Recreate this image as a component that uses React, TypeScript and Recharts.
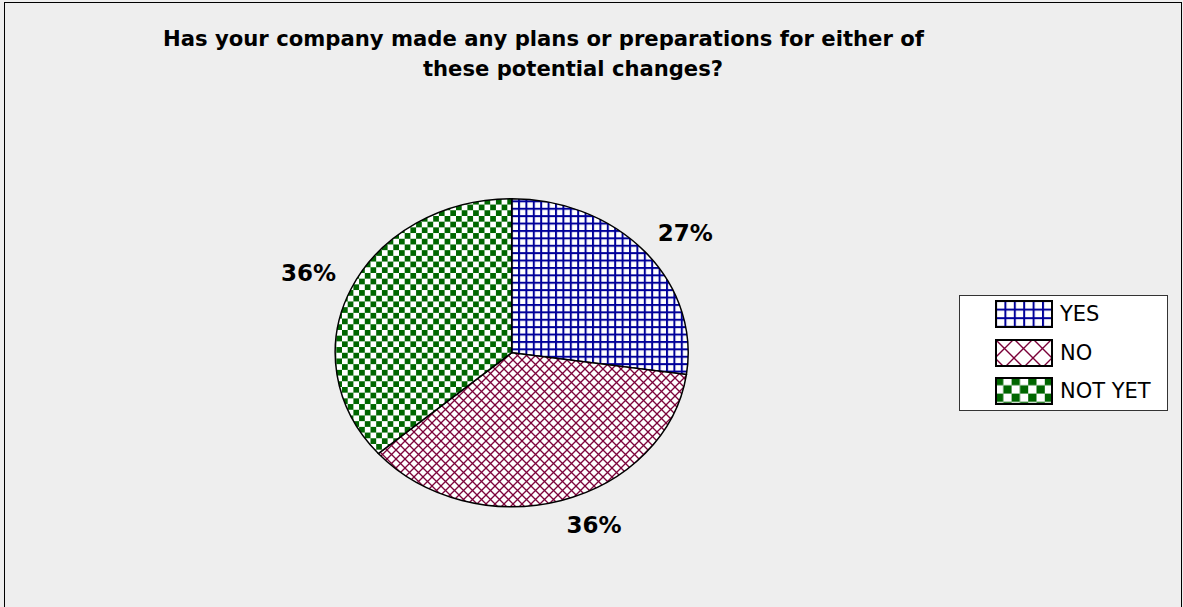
import React from 'react';
import { PieChart, Pie, Cell, Legend } from 'recharts';

// ---- data ----
const categories = ['YES', 'NO', 'NOT YET'];
const values = [27, 36, 36];
const titleLines = [
  'Has your company made any plans or preparations for either of',
  'these potential changes?',
];
const patternIds = ['pat-yes', 'pat-no', 'pat-notyet'];
const legendPatternIds = ['lpat-yes', 'lpat-no', 'lpat-notyet'];

const data = categories.map((name, i) => ({ name, value: values[i] }));

// ---- layout ----
const W = 1183;
const H = 607;
const CX = 511.7;
const CY = 352.7;
const R = 176.5;
const K = 154 / 176.5; // vertical squash of the pie (ellipse)

const FONT = '"DejaVu Sans", Verdana, sans-serif';

const renderLabel = (p: any) => {
  const RAD = Math.PI / 180;
  const c = Math.cos(p.midAngle * RAD);
  const s = Math.sin(p.midAngle * RAD);
  const ex = p.cx + p.outerRadius * c;
  const ey = p.cy - p.outerRadius * K * s;
  const lx = ex + c * 16 + Math.sign(c) * 28;
  const ly = ey - s * 16 - Math.sign(s) * 9;
  return (
    <text
      key={`lbl-${p.index}`}
      x={lx}
      y={ly + 8.3}
      textAnchor="middle"
      fontFamily={FONT}
      fontWeight="bold"
      fontSize={23}
      fill="#000"
    >
      {`${Math.round(p.percent * 100)}%`}
    </text>
  );
};

const renderLegend = (props: any) => {
  const payload = [...(props.payload || [])].sort(
    (a: any, b: any) => categories.indexOf(a.value) - categories.indexOf(b.value)
  );
  return (
    <div
      style={{
        width: 209,
        height: 116,
        background: '#fff',
        border: '1px solid #333',
        boxSizing: 'border-box',
        position: 'relative',
      }}
    >
      {payload.map((entry: any, i: number) => {
        const idx = categories.indexOf(entry.value);
        return (
          <div
            key={`leg-${i}`}
            style={{
              position: 'absolute',
              left: 35,
              top: 4 + i * 38.7,
              height: 28,
              display: 'flex',
              alignItems: 'center',
            }}
          >
            <svg width={58} height={28} style={{ display: 'block' }}>
              <rect
                x={1}
                y={1}
                width={56}
                height={26}
                fill={`url(#${legendPatternIds[idx]})`}
                stroke="#000"
                strokeWidth={2}
              />
            </svg>
            <span
              style={{
                marginLeft: 7,
                fontFamily: FONT,
                fontSize: 21,
                color: '#000',
                lineHeight: '28px',
              }}
            >
              {entry.value}
            </span>
          </div>
        );
      })}
    </div>
  );
};

const css = `
.ellipse-pie path.recharts-sector {
  transform: scaleY(${K});
  transform-origin: ${CX}px ${CY}px;
  transform-box: view-box;
  vector-effect: non-scaling-stroke;
}
`;

export default function App() {
  const inv = 1 / K;
  return (
    <div
      className="ellipse-pie"
      style={{
        position: 'absolute',
        left: 0,
        top: 0,
        width: W,
        height: H,
        background: '#eeeeee',
        overflow: 'hidden',
      }}
    >
      <style>{css}</style>
      <div
        style={{
          position: 'absolute',
          left: 4,
          top: 2,
          width: 1178,
          height: 700,
          border: '1px solid #000',
          boxSizing: 'border-box',
        }}
      />
      <div style={{ position: 'absolute', left: 0, top: 0 }}>
        <PieChart width={W} height={H} margin={{ top: 0, right: 0, bottom: 0, left: 0 }}>
          <defs>
            {/* pie patterns (counter-scaled for the ellipse squash) */}
            <pattern id="pat-yes" patternUnits="userSpaceOnUse" width={7.4} height={7.4} patternTransform={`scale(1, ${inv})`}>
              <rect width={7.4} height={7.4} fill="#fff" />
              <rect width={7.4} height={2} fill="#000099" />
              <rect width={2} height={7.4} fill="#000099" />
            </pattern>
            <pattern id="pat-no" patternUnits="userSpaceOnUse" width={9} height={9} patternTransform={`scale(1, ${inv})`}>
              <rect width={9} height={9} fill="#fff" />
              <path d="M0,0 L9,9 M9,0 L0,9" stroke="#7a0038" strokeWidth={1.3} />
            </pattern>
            <pattern id="pat-notyet" patternUnits="userSpaceOnUse" width={11.4} height={11.4} patternTransform={`scale(1, ${inv})`}>
              <rect width={11.4} height={11.4} fill="#fff" />
              <rect width={5.7} height={5.7} fill="#006600" />
              <rect x={5.7} y={5.7} width={5.7} height={5.7} fill="#006600" />
            </pattern>
            {/* legend patterns */}
            <pattern id="lpat-yes" patternUnits="userSpaceOnUse" width={9.4} height={8.6}>
              <rect width={9.4} height={8.6} fill="#fff" />
              <rect width={9.4} height={2} fill="#000099" />
              <rect width={2} height={8.6} fill="#000099" />
            </pattern>
            <pattern id="lpat-no" patternUnits="userSpaceOnUse" width={19} height={19}>
              <rect width={19} height={19} fill="#fff" />
              <path d="M0,0 L19,19 M19,0 L0,19" stroke="#7a0038" strokeWidth={1.4} />
            </pattern>
            <pattern id="lpat-notyet" patternUnits="userSpaceOnUse" width={16.6} height={16.6}>
              <rect width={16.6} height={16.6} fill="#fff" />
              <rect width={8.3} height={8.3} fill="#006600" />
              <rect x={8.3} y={8.3} width={8.3} height={8.3} fill="#006600" />
            </pattern>
          </defs>
          <text
            x={163}
            y={45.7}
            textAnchor="start"
            fontFamily={FONT}
            fontWeight="bold"
            fontSize={21}
            textLength={761}
            lengthAdjust="spacingAndGlyphs"
            fill="#000"
          >
            {titleLines[0]}
          </text>
          <text
            x={423}
            y={76}
            textAnchor="start"
            fontFamily={FONT}
            fontWeight="bold"
            fontSize={21}
            textLength={300}
            lengthAdjust="spacingAndGlyphs"
            fill="#000"
          >
            {titleLines[1]}
          </text>
          <Pie
            data={data}
            dataKey="value"
            nameKey="name"
            cx={CX}
            cy={CY}
            outerRadius={R}
            innerRadius={0}
            startAngle={90}
            endAngle={-270}
            stroke="#000"
            strokeWidth={1.5}
            label={renderLabel}
            labelLine={false}
            isAnimationActive={false}
          >
            {data.map((d, i) => (
              <Cell key={d.name} fill={`url(#${patternIds[i]})`} stroke="#000" strokeWidth={1.5} />
            ))}
          </Pie>
          <Legend
            layout="vertical"
            align="right"
            verticalAlign="middle"
            width={209}
            height={116}
            content={renderLegend}
            wrapperStyle={{ left: 959, top: 295, width: 209, height: 116, right: 'auto', bottom: 'auto' }}
          />
        </PieChart>
      </div>
    </div>
  );
}
